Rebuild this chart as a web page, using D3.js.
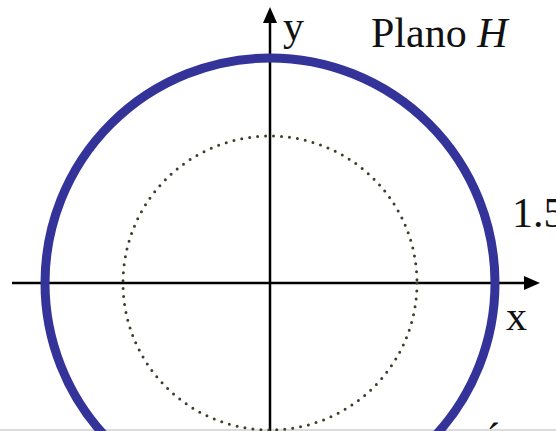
<!DOCTYPE html>
<html>
<head>
<meta charset="utf-8">
<script src="https://cdn.jsdelivr.net/npm/d3@7"></script>
<style>
  body { margin: 0; background: #fff; }
  svg { display: block; }
  text { font-family: "Liberation Serif", "Times New Roman", serif; font-size: 42px; fill: #111; }
</style>
</head>
<body>
<div class="container"></div>
<script>
const WIDTH = 556,
      HEIGHT = 431,
      CX = 270,
      CY = 283,
      UNIT = 150;

// circles in plane H (radius in data units)
var radii = [1.5, 0.98];
var circleStyle = ['solid', 'dotted'];
// axis extents in data units
var xExtent = [-1.72, 1.8];
var yExtent = [-1.1, 1.84];
var labels = ['y', 'Plano ', 'H', 'x', '1.5'];

var x = d3.scaleLinear().domain([0, 1]).range([CX, CX + UNIT]);
var y = d3.scaleLinear().domain([0, 1]).range([CY, CY - UNIT]);

var svg = d3.select('.container').append('svg')
    .attr('width', WIDTH).attr('height', HEIGHT);

// thin grey rule at the bottom
svg.append('line')
    .attr('x1', 0).attr('x2', WIDTH)
    .attr('y1', 430).attr('y2', 430)
    .attr('stroke', '#cfcfcf').attr('stroke-width', 1.5);

// axes
svg.append('line')
    .attr('x1', x(xExtent[0])).attr('x2', x(xExtent[1]) - 10)
    .attr('y1', y(0)).attr('y2', y(0))
    .attr('stroke', '#000').attr('stroke-width', 2.5);
svg.append('line')
    .attr('x1', x(0)).attr('x2', x(0))
    .attr('y1', y(yExtent[0])).attr('y2', y(yExtent[1]) + 10)
    .attr('stroke', '#000').attr('stroke-width', 2.5);

// arrow heads
var xt = x(xExtent[1]), yt = y(yExtent[1]);
svg.append('path')
    .attr('d', `M${xt},${y(0)} L${xt - 16},${y(0) - 7} L${xt - 16},${y(0) + 7} Z`)
    .attr('fill', '#000');
svg.append('path')
    .attr('d', `M${x(0)},${yt} L${x(0) - 7},${yt + 16} L${x(0) + 7},${yt + 16} Z`)
    .attr('fill', '#000');

// circles
svg.selectAll('circle.c').data(radii).enter().append('circle')
    .attr('class', 'c')
    .attr('cx', x(0)).attr('cy', y(0))
    .attr('r', d => x(d) - x(0))
    .attr('fill', 'none')
    .attr('stroke', (d, i) => circleStyle[i] === 'solid' ? '#33339a' : '#3d3d2a')
    .attr('stroke-width', (d, i) => circleStyle[i] === 'solid' ? 9 : 3)
    .attr('stroke-linecap', (d, i) => circleStyle[i] === 'solid' ? 'butt' : 'round')
    .attr('stroke-dasharray', (d, i) => circleStyle[i] === 'solid' ? null : '0 8');

// labels
svg.append('text').attr('x', 283).attr('y', 40).text(labels[0]);
var plano = svg.append('text').attr('x', 371).attr('y', 47);
plano.append('tspan').text(labels[1]);
plano.append('tspan').attr('font-style', 'italic').text(labels[2]);
svg.append('text').attr('x', 506).attr('y', 330).text(labels[3]);
svg.append('text').attr('x', 512).attr('y', 227).text(labels[4]);
// cut-off letter at the bottom edge
svg.append('text').attr('x', 480).attr('y', 459).text('É');
</script>
</body>
</html>
